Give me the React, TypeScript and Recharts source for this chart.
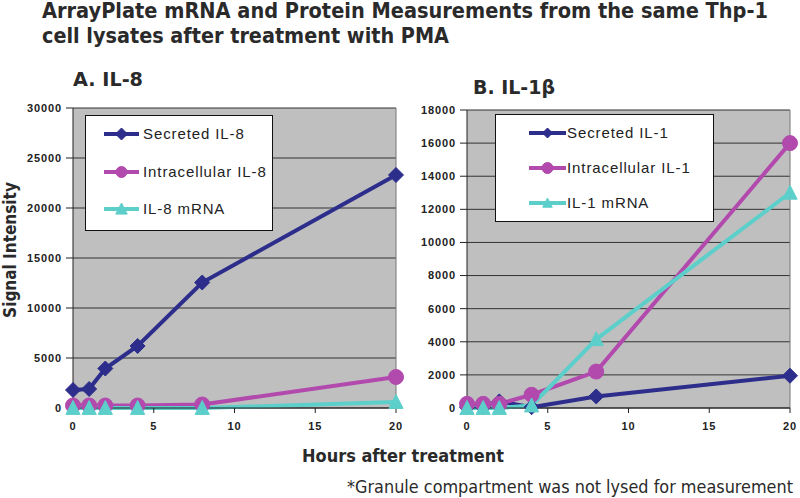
import React from "react";
import {
  LineChart,
  Line,
  XAxis,
  YAxis,
  CartesianGrid,
  Legend,
  ReferenceLine,
} from "recharts";

// ---- data ----
const hours = [0, 1, 2, 4, 8, 20];
const xTicks = [0, 5, 10, 15, 20];

const il8Secreted = [1800, 1900, 3950, 6200, 12550, 23300];
const il8Intracellular = [250, 250, 250, 250, 350, 3100];
const il8Mrna = [0, 0, 0, 0, 0, 600];
const il8Ticks = [0, 5000, 10000, 15000, 20000, 25000, 30000];
const il8Names = ["Secreted IL-8", "Intracellular IL-8", "IL-8 mRNA"];

const il1Secreted = [50, 50, 400, 50, 700, 1950];
const il1Intracellular = [250, 250, 250, 800, 2200, 16000];
const il1Mrna = [0, 0, 0, 150, 4150, 13000];
const il1Ticks = [0, 2000, 4000, 6000, 8000, 10000, 12000, 14000, 16000, 18000];
const il1Names = ["Secreted IL-1", "Intracellular IL-1", "IL-1 mRNA"];

const COLORS = ["#2d2d8c", "#b24aae", "#5ccfcb"];
const SHAPES = ["diamond", "circle", "triangle"];

const il8Data = hours.map((h, i) => ({
  h,
  s: il8Secreted[i],
  c: il8Intracellular[i],
  m: il8Mrna[i],
}));
const il1Data = hours.map((h, i) => ({
  h,
  s: il1Secreted[i],
  c: il1Intracellular[i],
  m: il1Mrna[i],
}));

function Marker({ shape, cx, cy, fill, size }: any) {
  if (cx == null || cy == null) return null;
  if (shape === "diamond") {
    const r = size;
    return (
      <polygon
        points={`${cx},${cy - r} ${cx + r},${cy} ${cx},${cy + r} ${cx - r},${cy}`}
        fill={fill}
        stroke={fill}
      />
    );
  }
  if (shape === "circle") {
    return <circle cx={cx} cy={cy} r={size - 0.5} fill={fill} stroke={fill} />;
  }
  const r = size;
  return (
    <polygon
      points={`${cx},${cy - r} ${cx + r * 0.95},${cy + r * 0.85} ${cx - r * 0.95},${cy + r * 0.85}`}
      fill={fill}
      stroke={fill}
    />
  );
}

const makeDot = (shape: string, fill: string, size: number) => (props: any) =>
  (
    <Marker
      key={`${shape}-${props.index}`}
      shape={shape}
      cx={props.cx}
      cy={props.cy}
      fill={fill}
      size={size}
    />
  );

function LegendBox({
  names,
  width,
  height,
  lineX0,
  lineX1,
  textX,
  rowYs,
  markerSize,
}: any) {
  return (
    <div
      style={{
        width,
        height,
        background: "#ffffff",
        border: "1px solid #111",
        boxSizing: "border-box",
        position: "relative",
      }}
    >
      {names.map((n: string, i: number) => (
        <div key={n}>
          <svg
            width={lineX1 - lineX0 + 20}
            height={24}
            style={{ position: "absolute", left: lineX0 - 10, top: rowYs[i] - 12 }}
          >
            <line
              x1={10}
              x2={lineX1 - lineX0 + 10}
              y1={12}
              y2={12}
              stroke={COLORS[i]}
              strokeWidth={4}
            />
            <Marker
              shape={SHAPES[i]}
              cx={(lineX1 - lineX0) / 2 + 10}
              cy={12}
              fill={COLORS[i]}
              size={markerSize[i]}
            />
          </svg>
          <div
            style={{
              position: "absolute",
              left: textX,
              top: rowYs[i] - 10,
              fontFamily: "'Liberation Sans', Arial, sans-serif",
              fontSize: 15,
              lineHeight: "20px",
              letterSpacing: 0.9,
              color: "#222",
              whiteSpace: "nowrap",
            }}
          >
            {n}
          </div>
        </div>
      ))}
    </div>
  );
}

const tickStyle = {
  fontFamily: "'Liberation Sans', Arial, sans-serif",
  fontSize: 11,
  fontWeight: "bold" as const,
  fill: "#222",
  letterSpacing: 0.9,
};

function Panel({ data, yTicks, yMax, names, margin, legendPos, legendProps, width }: any) {
  return (
    <LineChart width={width} height={498} data={data} margin={margin}>
      <CartesianGrid
        vertical={false}
        fill="#bfbfbf"
        fillOpacity={1}
        stroke="#333"
        strokeWidth={1}
      />
      <XAxis
        dataKey="h"
        type="number"
        domain={[0, 20]}
        ticks={xTicks}
        height={30}
        tickSize={5}
        tickMargin={9}
        stroke="#222"
        tick={tickStyle}
      />
      <YAxis
        type="number"
        domain={[0, yMax]}
        ticks={yTicks}
        width={60}
        tickSize={7}
        tickMargin={4}
        stroke="#222"
        tick={tickStyle}
        interval={0}
      />
      <ReferenceLine x={20} stroke="#777" strokeWidth={1} />
      <Legend
        layout="vertical"
        align="center"
        verticalAlign="middle"
        wrapperStyle={{ left: legendPos.left, top: legendPos.top, width: "auto" }}
        content={() => <LegendBox names={names} {...legendProps} />}
      />
      {["s", "c", "m"].map((k, i) => (
        <Line
          key={k}
          dataKey={k}
          name={names[i]}
          type="linear"
          stroke={COLORS[i]}
          strokeWidth={4}
          isAnimationActive={false}
          dot={makeDot(SHAPES[i], COLORS[i], i === 1 ? 8 : 7.5)}
          activeDot={false}
        />
      ))}
    </LineChart>
  );
}

export default function App() {
  return (
    <div
      style={{
        position: "absolute",
        left: 0,
        top: 0,
        width: 800,
        height: 498,
        background: "#ffffff",
        overflow: "hidden",
      }}
    >
      <div style={{ position: "absolute", left: 0, top: 0 }}>
        <Panel
          width={420}
          data={il8Data}
          yTicks={il8Ticks}
          yMax={30000}
          names={il8Names}
          margin={{ top: 108, right: 24, bottom: 60, left: 13 }}
          legendPos={{ left: 85, top: 115 }}
          legendProps={{
            width: 188,
            height: 116,
            lineX0: 18,
            lineX1: 53,
            textX: 57,
            rowYs: [18, 56, 93],
            markerSize: [6, 6, 6],
          }}
        />
      </div>
      <div style={{ position: "absolute", left: 400, top: 0 }}>
        <Panel
          width={400}
          data={il1Data}
          yTicks={il1Ticks}
          yMax={18000}
          names={il1Names}
          margin={{ top: 110, right: 10, bottom: 60, left: 7 }}
          legendPos={{ left: 95, top: 114 }}
          legendProps={{
            width: 219,
            height: 108,
            lineX0: 33,
            lineX1: 70,
            textX: 71,
            rowYs: [18, 53, 88],
            markerSize: [5, 6, 5],
          }}
        />
      </div>
      <svg
        width={800}
        height={498}
        style={{ position: "absolute", left: 0, top: 0, pointerEvents: "none" }}
      >
        <g
          fontFamily="'DejaVu Sans Condensed', 'DejaVu Sans', sans-serif"
          fontWeight="bold"
          fill="#2a2a2a"
        >
          <text x={42} y={18} fontSize={21} textLength={726} lengthAdjust="spacingAndGlyphs">
            ArrayPlate mRNA and Protein Measurements from the same Thp-1
          </text>
          <text x={42} y={43} fontSize={21} textLength={407} lengthAdjust="spacingAndGlyphs">
            cell lysates after treatment with PMA
          </text>
          <text x={73} y={86} fontSize={19} textLength={70} lengthAdjust="spacingAndGlyphs">
            A. IL-8
          </text>
          <text x={473} y={94} fontSize={19} textLength={82} lengthAdjust="spacingAndGlyphs">
            B. IL-1β
          </text>
          <text x={302} y={462} fontSize={18} textLength={202} lengthAdjust="spacingAndGlyphs">
            Hours after treatment
          </text>
          <text
            x={0}
            y={0}
            fontSize={17}
            textAnchor="middle"
            transform="translate(16,250) rotate(-90)"
          >
            Signal Intensity
          </text>
        </g>
        <text
          x={347}
          y={493}
          fontFamily="'DejaVu Sans Condensed', 'DejaVu Sans', sans-serif"
          fontSize={17}
          fill="#2a2a2a"
          textLength={446}
          lengthAdjust="spacingAndGlyphs"
        >
          *Granule compartment was not lysed for measurement
        </text>
      </svg>
    </div>
  );
}
